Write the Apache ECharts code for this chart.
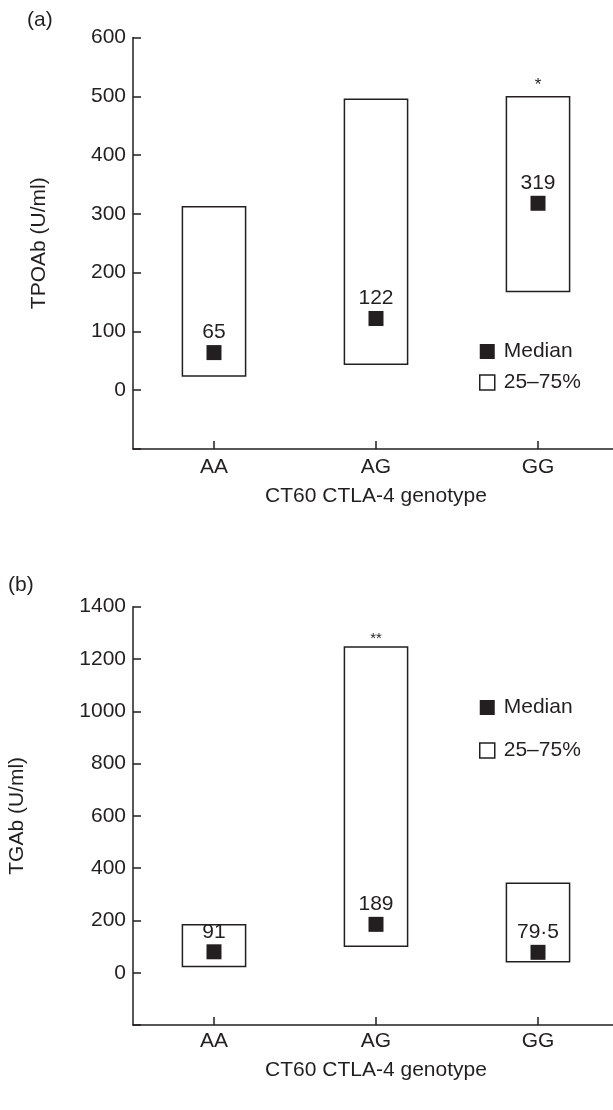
<!DOCTYPE html>
<html>
<head>
<meta charset="utf-8">
<script src="https://cdn.jsdelivr.net/npm/echarts@6/dist/echarts.min.js"></script>
<style>
html, body { margin: 0; padding: 0; background: #fff; }
#main { width: 613px; height: 1110px; }
</style>
</head>
<body>
<div id="main"></div>
<script>
'use strict';
var genotypes = ['AA', 'AG', 'GG'];

// (a) TPOAb, U/ml
var tpoQ1 = [24, 44, 168];
var tpoQ3 = [312, 495, 499];
var tpoMedian = [64, 122, 318];
var tpoMedianText = ['65', '122', '319'];
var tpoSig = ['', '', '*'];

// (b) TGAb, U/ml
var tgQ1 = [24, 101, 42];
var tgQ3 = [183, 1246, 342];
var tgMedian = [80, 185, 78];
var tgMedianText = ['91', '189', '79·5'];
var tgSig = ['', '**', ''];

var ink = '#231f20';
var font = '"Liberation Sans", Arial, Helvetica, sans-serif';
var fs = 21;

var chart = echarts.init(document.getElementById('main'));

function boxRenderer(sig, sigSize, sigGap) {
    return function (params, api) {
        var idx = api.value(0);
        var lo = api.coord([idx, api.value(1)]);
        var hi = api.coord([idx, api.value(2)]);
        var w = api.size([1, 0])[0] * 0.39;
        return {
            type: 'group',
            children: [
                {
                    type: 'rect',
                    shape: { x: lo[0] - w / 2, y: hi[1], width: w, height: lo[1] - hi[1] },
                    style: { fill: '#fff', stroke: ink, lineWidth: 1.5 }
                },
                {
                    type: 'text',
                    x: lo[0],
                    y: hi[1] - sigGap,
                    style: {
                        text: sig[idx],
                        fill: ink,
                        font: sigSize + 'px ' + font,
                        align: 'center',
                        verticalAlign: 'bottom'
                    }
                }
            ]
        };
    };
}

function boxData(q1, q3) {
    var d = [];
    for (var i = 0; i < q1.length; i++) {
        d.push([i, q1[i], q3[i]]);
    }
    return d;
}

function medianData(med) {
    var d = [];
    for (var i = 0; i < med.length; i++) {
        d.push([i, med[i]]);
    }
    return d;
}

function xAxisFor(gridIndex, nameGap, labelMargin) {
    return {
        type: 'category',
        gridIndex: gridIndex,
        data: genotypes,
        name: 'CT60 CTLA-4 genotype',
        nameLocation: 'middle',
        nameGap: nameGap,
        nameTextStyle: { fontSize: fs, color: ink, fontFamily: font },
        axisLine: { show: true, onZero: false, lineStyle: { color: ink, width: 1.5 } },
        axisTick: { show: true, alignWithLabel: true, inside: true, length: 8, lineStyle: { color: ink, width: 1.5 } },
        axisLabel: { fontSize: fs, color: ink, fontFamily: font, margin: labelMargin },
        splitLine: { show: false }
    };
}

function yAxisFor(gridIndex, name, min, max, interval, nameGap) {
    return {
        type: 'value',
        gridIndex: gridIndex,
        min: min,
        max: max,
        interval: interval,
        name: name,
        nameLocation: 'middle',
        nameRotate: 90,
        nameGap: nameGap,
        nameTextStyle: { fontSize: fs, color: ink, fontFamily: font },
        axisLine: { show: true, lineStyle: { color: ink, width: 1.5 } },
        axisTick: { show: true, inside: true, length: 8, lineStyle: { color: ink, width: 1.5 } },
        axisLabel: {
            fontSize: fs, color: ink, fontFamily: font, margin: 7,
            formatter: function (v) { return v < 0 ? '' : String(v); }
        },
        splitLine: { show: false }
    };
}

function medianSeries(axisIndex, med, texts) {
    return {
        name: 'Median',
        type: 'scatter',
        xAxisIndex: axisIndex,
        yAxisIndex: axisIndex,
        symbol: 'rect',
        symbolSize: 15,
        z: 5,
        itemStyle: { color: ink, opacity: 1 },
        label: {
            show: true,
            position: 'top',
            distance: 2,
            fontSize: fs,
            color: ink,
            opacity: 1,
            fontFamily: font,
            formatter: function (p) { return texts[p.dataIndex]; }
        },
        data: medianData(med)
    };
}

function boxSeries(axisIndex, q1, q3, sig, sigSize, sigGap) {
    return {
        name: '25–75%',
        type: 'custom',
        xAxisIndex: axisIndex,
        yAxisIndex: axisIndex,
        z: 2,
        itemStyle: { color: '#fff', borderColor: ink },
        renderItem: boxRenderer(sig, sigSize, sigGap),
        encode: { x: 0, y: [1, 2] },
        data: boxData(q1, q3)
    };
}

function legendFor(top, gap) {
    return {
        orient: 'vertical',
        left: 479,
        top: top,
        padding: 0,
        itemWidth: 15,
        itemHeight: 15,
        itemGap: gap,
        selectedMode: false,
        textStyle: { fontSize: fs, color: ink, fontFamily: font, lineHeight: 21, padding: [0, 0, 0, 4] },
        data: [
            { name: 'Median', icon: 'rect', itemStyle: { color: ink, borderWidth: 0, opacity: 1 } },
            { name: '25–75%', icon: 'rect', itemStyle: { color: '#fff', borderColor: ink, borderWidth: 1.5 } }
        ]
    };
}

var option = {
    animation: false,
    backgroundColor: '#fff',
    title: [
        { text: '(a)', left: 27, top: 10, padding: 0, textStyle: { fontSize: fs, fontWeight: 'normal', color: ink, fontFamily: font } },
        { text: '(b)', left: 8, top: 575, padding: 0, textStyle: { fontSize: fs, fontWeight: 'normal', color: ink, fontFamily: font } }
    ],
    legend: [legendFor(341, 10), legendFor(697, 22)],
    grid: [
        { left: 133, right: -6, top: 37.5, height: 411.5, outerBoundsMode: 'none', containLabel: false },
        { left: 133, right: -6, top: 606.7, height: 418.3, outerBoundsMode: 'none', containLabel: false }
    ],
    xAxis: [xAxisFor(0, 37, 8), xAxisFor(1, 35, 6)],
    yAxis: [
        yAxisFor(0, 'TPOAb (U/ml)', -100, 600, 100, 83),
        yAxisFor(1, 'TGAb (U/ml)', -200, 1400, 200, 105)
    ],
    series: [
        boxSeries(0, tpoQ1, tpoQ3, tpoSig, 17, 3),
        medianSeries(0, tpoMedian, tpoMedianText),
        boxSeries(1, tgQ1, tgQ3, tgSig, 15, 1),
        medianSeries(1, tgMedian, tgMedianText)
    ]
};

chart.setOption(option);
</script>
</body>
</html>
